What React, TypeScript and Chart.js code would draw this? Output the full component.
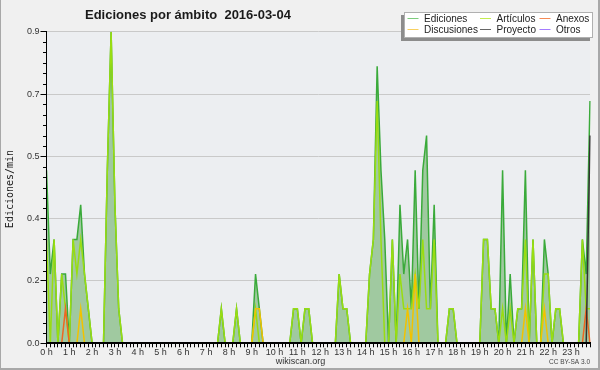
import React, { useEffect, useRef } from 'react';
import { Chart, registerables } from 'chart.js';

Chart.register(...registerables);

// 10-minute bins (144 per day)
const hourTicks = ['0 h','1 h','2 h','3 h','4 h','5 h','6 h','7 h','8 h','9 h','10 h','11 h','12 h','13 h','14 h','15 h','16 h','17 h','18 h','19 h','20 h','21 h','22 h','23 h'];
const binsPerHour = 6;
const categories: string[] = [];
for (let h = 0; h < hourTicks.length; h++) {
  for (let k = 0; k < binsPerHour; k++) categories.push(k === 0 ? hourTicks[h] : '');
}

const yTicks = [0, 0.18, 0.36, 0.54, 0.72, 0.9];

const ediciones = [
  0.5,0.2,0.3,0,0.2,0.2,0,0.3,0.3,0.4,0.2,0.1,
  0,0,0,0,0.5,0.9,0.4,0.1,0,0,0,0,
  0,0,0,0,0,0,0,0,0,0,0,0,
  0,0,0,0,0,0,0,0,0,0,0.1,0,
  0,0,0.1,0,0,0,0,0.2,0.1,0,0,0,
  0,0,0,0,0,0.1,0.1,0,0.1,0.1,0,0,
  0,0,0,0,0,0.2,0.1,0.1,0,0,0,0,
  0,0.2,0.3,0.8,0.5,0.3,0,0.3,0,0.4,0.2,0.3,
  0.1,0.5,0.1,0.5,0.6,0.1,0.4,0,0,0,0.1,0.1,
  0,0,0,0,0,0,0,0.3,0.3,0.1,0.1,0,
  0.5,0,0.2,0,0.1,0.1,0.5,0,0.3,0,0,0.3,
  0.2,0,0.1,0.1,0,0,0,0,0,0.3,0.2,0.7,
];

const articulos = [
  0.3,0,0.3,0,0.2,0.1,0,0.3,0.2,0.3,0.2,0.1,
  0,0,0,0,0.5,0.9,0.4,0.1,0,0,0,0,
  0,0,0,0,0,0,0,0,0,0,0,0,
  0,0,0,0,0,0,0,0,0,0,0.1,0,
  0,0,0.1,0,0,0,0,0.1,0,0,0,0,
  0,0,0,0,0,0.1,0.1,0,0.1,0.1,0,0,
  0,0,0,0,0,0.2,0.1,0.1,0,0,0,0,
  0,0.2,0.3,0.7,0.3,0,0,0.3,0,0.2,0.1,0.1,
  0.1,0.2,0.1,0.3,0.1,0.1,0.3,0,0,0,0.1,0.1,
  0,0,0,0,0,0,0,0.3,0.3,0.1,0.1,0,
  0.1,0,0.1,0,0.1,0.1,0.3,0,0.3,0,0,0.2,
  0.2,0,0.1,0.1,0,0,0,0,0,0.3,0.1,0.1,
];

const anexos = [
  0,0,0,0,0,0.1,0,0,0,0,0,0,
  0,0,0,0,0,0,0,0,0,0,0,0,
  0,0,0,0,0,0,0,0,0,0,0,0,
  0,0,0,0,0,0,0,0,0,0,0,0,
  0,0,0,0,0,0,0,0,0,0,0,0,
  0,0,0,0,0,0,0,0,0,0,0,0,
  0,0,0,0,0,0,0,0,0,0,0,0,
  0,0,0,0,0,0,0,0,0,0,0,0,
  0,0,0,0,0,0,0,0,0,0,0,0,
  0,0,0,0,0,0,0,0,0,0,0,0,
  0,0,0,0,0,0,0,0,0,0,0,0,
  0,0,0,0,0,0,0,0,0,0,0.1,0,
];

const discusiones = [
  0,0,0,0,0,0,0,0,0,0.1,0,0,
  0,0,0,0,0,0,0,0,0,0,0,0,
  0,0,0,0,0,0,0,0,0,0,0,0,
  0,0,0,0,0,0,0,0,0,0,0,0,
  0,0,0,0,0,0,0,0.1,0.1,0,0,0,
  0,0,0,0,0,0,0,0,0,0,0,0,
  0,0,0,0,0,0,0,0,0,0,0,0,
  0,0,0,0,0,0,0,0,0,0,0,0.1,
  0,0.2,0,0,0,0,0,0,0,0,0,0,
  0,0,0,0,0,0,0,0,0,0,0,0,
  0,0,0,0,0,0,0.1,0,0,0,0,0.1,
  0,0,0,0,0,0,0,0,0,0,0,0,
];

const proyecto = [
  0,0,0,0,0,0,0,0,0,0,0,0,
  0,0,0,0,0,0,0,0,0,0,0,0,
  0,0,0,0,0,0,0,0,0,0,0,0,
  0,0,0,0,0,0,0,0,0,0,0,0,
  0,0,0,0,0,0,0,0,0,0,0,0,
  0,0,0,0,0,0,0,0,0,0,0,0,
  0,0,0,0,0,0,0,0,0,0,0,0,
  0,0,0,0,0,0,0,0,0,0,0,0,
  0,0,0,0,0,0,0,0,0,0,0,0,
  0,0,0,0,0,0,0,0,0,0,0,0,
  0,0,0,0,0,0,0,0,0,0,0,0,
  0,0,0,0,0,0,0,0,0,0,0,0.6,
];

const otros = [
  0,0,0,0,0,0,0,0,0,0,0,0,
  0,0,0,0,0,0,0,0,0,0,0,0,
  0,0,0,0,0,0,0,0,0,0,0,0,
  0,0,0,0,0,0,0,0,0,0,0,0,
  0,0,0,0,0,0,0,0,0,0,0,0,
  0,0,0,0,0,0,0,0,0,0,0,0,
  0,0,0,0,0,0,0,0,0,0,0,0,
  0,0,0,0,0,0,0,0,0,0,0,0,
  0,0,0,0,0,0,0,0,0,0,0,0,
  0,0,0,0,0,0,0,0,0,0,0,0,
  0,0,0,0,0,0,0,0,0,0,0,0,
  0,0,0,0,0,0,0,0,0,0,0,0,
];

const seriesNames = ['Ediciones', 'Artículos', 'Anexos', 'Discusiones', 'Proyecto', 'Otros'];
const seriesColors = ['#3aaa3a', '#99dd11', '#ee6622', '#f2c200', '#333333', '#8a4dff'];
const legendColors = ['#7ccc7c', '#c4ec50', '#f58a55', '#f8d060', '#666666', '#a57cff'];

const FONT = 'Liberation Sans, Arial, sans-serif';

const decorPlugin = {
  id: 'decor',
  beforeDraw(chart: any) {
    const { ctx, chartArea } = chart;
    ctx.save();
    ctx.fillStyle = '#f0f0f0';
    ctx.fillRect(0, 0, chart.width, chart.height);
    ctx.fillStyle = '#eceef1';
    ctx.fillRect(chartArea.left, chartArea.top, chartArea.right - chartArea.left, chartArea.bottom - chartArea.top);
    // outer frame
    ctx.fillStyle = '#a8a8a8';
    ctx.fillRect(0, 0, 1, chart.height);
    ctx.fillRect(0, chart.height - 2, chart.width, 2);
    ctx.fillRect(chart.width - 2, 0, 2, chart.height);
    ctx.restore();
  },
  afterDraw(chart: any) {
    const { ctx, chartArea } = chart;
    const y = chart.scales.y;
    ctx.save();
    // minor y ticks
    ctx.strokeStyle = '#000';
    ctx.lineWidth = 1;
    ctx.beginPath();
    for (let k = 0; k <= 30; k++) {
      if (k % 6 === 0) continue;
      const py = Math.round(y.getPixelForValue(k * 0.03)) + 0.5;
      ctx.moveTo(chartArea.left - 3.5, py);
      ctx.lineTo(chartArea.left, py);
    }
    ctx.stroke();

    // title
    ctx.fillStyle = '#1a1a1a';
    ctx.font = 'bold 13px ' + FONT;
    ctx.textAlign = 'left';
    ctx.textBaseline = 'alphabetic';
    ctx.fillText('Ediciones por ámbito  2016-03-04', 85, 18.5);

    // y title
    ctx.save();
    ctx.translate(10.5, 189);
    ctx.rotate(-Math.PI / 2);
    ctx.font = '10px DejaVu Sans Mono, monospace';
    ctx.textAlign = 'center';
    ctx.textBaseline = 'middle';
    ctx.fillStyle = '#1a1a1a';
    ctx.fillText('Ediciones/min', 0, 0);
    ctx.restore();

    // footer
    ctx.fillStyle = '#333';
    ctx.font = '9px ' + FONT;
    ctx.textAlign = 'center';
    ctx.textBaseline = 'middle';
    ctx.fillText('wikiscan.org', 300.5, 361.5);
    ctx.font = '6.5px ' + FONT;
    ctx.textAlign = 'right';
    ctx.fillStyle = '#444';
    ctx.fillText('CC BY-SA 3.0', 590, 362.5);

    // legend
    ctx.fillStyle = '#8c8c8c';
    ctx.fillRect(401, 15, 189, 26);
    ctx.fillStyle = '#ffffff';
    ctx.fillRect(404, 12, 189, 26);
    ctx.strokeStyle = '#b0b0b0';
    ctx.lineWidth = 1;
    ctx.strokeRect(404.5, 12.5, 188, 25);
    const colsX = [407.5, 480, 539.5];
    const rowsY = [18.5, 29.5];
    ctx.font = '10px ' + FONT;
    ctx.textAlign = 'left';
    ctx.textBaseline = 'middle';
    for (let i = 0; i < seriesNames.length; i++) {
      const cx = colsX[i % 3];
      const cy = rowsY[Math.floor(i / 3)];
      ctx.strokeStyle = legendColors[i];
      ctx.beginPath();
      ctx.moveTo(cx, cy);
      ctx.lineTo(cx + 11, cy);
      ctx.stroke();
      ctx.fillStyle = '#222';
      ctx.fillText(seriesNames[i], cx + 16.5, cy + 0.5);
    }
    ctx.restore();
  },
};

export default function App() {
  const ref = useRef<HTMLCanvasElement | null>(null);
  useEffect(() => {
    document.body.style.margin = '0';
    const canvas = ref.current!;
    const values = [ediciones, articulos, anexos, discusiones, proyecto, otros];
    const datasets = values.map((data, i) => ({
      label: seriesNames[i],
      data,
      borderColor: seriesColors[i],
      backgroundColor: i === 0 ? '#a0c9a0' : 'transparent',
      fill: i === 0 ? 'origin' : false,
      borderWidth: 1.5,
      pointRadius: 0,
      tension: 0,
      order: 6 - i,
    }));
    const chart = new Chart(canvas, {
      type: 'line',
      data: { labels: categories, datasets },
      options: {
        animation: false,
        responsive: false,
        devicePixelRatio: 1,
        layout: { padding: { top: 31.7, right: 10, bottom: 0, left: 0 } },
        plugins: { legend: { display: false }, title: { display: false }, tooltip: { enabled: false } },
        scales: {
          x: {
            type: 'category',
            offset: false,
            grid: { display: true, drawOnChartArea: false, drawTicks: true, tickLength: 4, tickColor: '#000', offset: false },
            border: { display: true, color: '#000', width: 2, z: 1 },
            ticks: {
              autoSkip: false, maxRotation: 0, minRotation: 0, padding: 0,
              font: { family: FONT, size: 9 }, color: '#333',
            },
            afterFit: (s: any) => { s.height = 26.7; },
          },
          y: {
            min: 0,
            max: 0.9,
            afterBuildTicks: (s: any) => { s.ticks = yTicks.map((v) => ({ value: v })); },
            grid: { color: '#c9c9c9', tickColor: '#000', tickLength: 6, drawTicks: true },
            border: { display: true, color: '#000', width: 1, z: 1 },
            ticks: {
              padding: 1, font: { family: FONT, size: 9 }, color: '#333',
              callback: (v: any) => Number(v).toFixed(1),
            },
            afterFit: (s: any) => { s.width = 46.5; },
          },
        },
      },
      plugins: [decorPlugin],
    });
    return () => chart.destroy();
  }, []);
  return <canvas ref={ref} width={600} height={370} style={{ display: 'block', width: 600, height: 370 }} />;
}
